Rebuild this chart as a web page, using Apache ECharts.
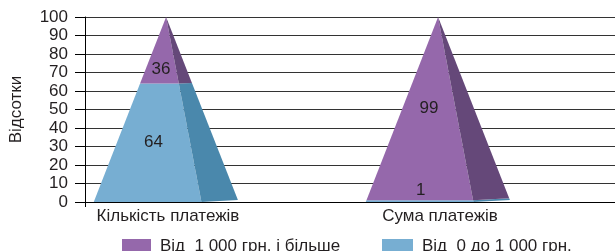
<!DOCTYPE html>
<html><head><meta charset="utf-8">
<script src="https://cdn.jsdelivr.net/npm/echarts@6/dist/echarts.min.js"></script>
<style>html,body{margin:0;padding:0;background:#fff}#c{width:615px;height:251px}</style>
</head><body><div id="c"></div>
<script>
const categories = ['Кількість платежів', 'Сума платежів'];
const seriesNames = ['Від  1 000 грн. і більше', 'Від  0 до 1 000 грн.'];
const upperValues = [36, 99];  // Від 1 000 грн. і більше
const lowerValues = [64, 1];   // Від 0 до 1 000 грн.
const yTicks = [0, 10, 20, 30, 40, 50, 60, 70, 80, 90, 100];

const FONT = '"Liberation Sans", Arial, sans-serif';
const TXT = '#231f20';
const colors = {
  upper: { front: '#9568ab', side: '#654879' },
  lower: { front: '#77aed2', side: '#4a88ac' }
};
// pyramid shape as fractions of the category band
const SHAPE = { left: -0.273, right: 0.123, back: 0.257, apex: -0.007 };

function makeRender(col) {
  return function (params, api) {
    const i = api.value(0), v0 = api.value(1), v1 = api.value(2), lab = api.value(3);
    const base = api.coord([i, 0]);
    const top = api.coord([i, 100]);
    const band = api.size([1, 0])[0];
    const cx = base[0], by = base[1], ay = top[1];
    const L = cx + SHAPE.left * band, R = cx + SHAPE.right * band, B = cx + SHAPE.back * band, A = cx + SHAPE.apex * band;
    const y0 = api.coord([i, v0])[1], y1 = api.coord([i, v1])[1];
    const t = y => (by - y) / (by - ay);
    const at = (X, y) => X + (A - X) * t(y);
    const front = [[at(L, y0), y0], [at(R, y0), y0], [at(R, y1), y1], [at(L, y1), y1]];
    const side = [[at(R, y0), y0], [at(B, y0), y0 - 2 * (1 - t(y0))], [at(B, y1), y1 - 2 * (1 - t(y1))], [at(R, y1), y1]];
    let ly = (y0 + y1) / 2;
    ly = Math.max(ly, ay + 52);
    ly = Math.min(ly, y0 - 12);
    const lx = (at(L, ly) + at(R, ly)) / 2;
    return {
      type: 'group',
      children: [
        { type: 'polygon', shape: { points: front }, style: { fill: col.front } },
        { type: 'polygon', shape: { points: side }, style: { fill: col.side } },
        { type: 'text', x: lx, y: ly, z2: 10, style: { text: String(lab), fill: TXT, font: '17px ' + FONT, align: 'center', verticalAlign: 'middle' } }
      ]
    };
  };
}

const lowerData = categories.map((c, i) => [i, 0, lowerValues[i], lowerValues[i]]);
const upperData = categories.map((c, i) => [i, lowerValues[i], lowerValues[i] + upperValues[i], upperValues[i]]);

const legendText = {
  fontSize: 17, color: TXT, fontFamily: FONT,
  rich: { t: { fontSize: 17, color: TXT, fontFamily: FONT, lineHeight: 17, padding: [0, 0, 5, 4] } }
};

const chart = echarts.init(document.getElementById('c'), null, { renderer: 'canvas' });
chart.setOption({
  animation: false,
  textStyle: { fontFamily: FONT },
  grid: [
    { left: 79, right: 0, top: 17, bottom: 49 },
    { left: 32, right: 39, top: 17, bottom: 49 }
  ],
  legend: [
    { data: [seriesNames[0]], left: 117, top: 233, itemWidth: 29, itemHeight: 20, icon: 'rect', itemGap: 0,
      formatter: n => '{t|' + n + '}', textStyle: legendText },
    { data: [seriesNames[1]], left: 377, top: 233, itemWidth: 31, itemHeight: 20, icon: 'rect', itemGap: 0,
      formatter: n => '{t|' + n + '}', textStyle: legendText }
  ],
  xAxis: [
    { gridIndex: 0, type: 'value', min: 0, max: 1,
      axisLine: { show: true, onZero: false, lineStyle: { color: '#000', width: 1 } },
      axisTick: { show: true, length: 5, customValues: [0], lineStyle: { color: '#000' } },
      axisLabel: { show: false }, splitLine: { show: false } },
    { gridIndex: 1, type: 'category', data: categories,
      axisLine: { show: false }, axisTick: { show: false },
      axisLabel: { margin: 6, fontSize: 17, color: TXT, fontFamily: FONT } }
  ],
  yAxis: [
    { gridIndex: 0, type: 'value', min: 0, max: 100, interval: 10,
      name: 'Відсотки', nameLocation: 'middle', nameRotate: 90, nameGap: 60,
      nameTextStyle: { fontSize: 17, color: TXT, fontFamily: FONT },
      axisLine: { show: true, lineStyle: { color: '#000', width: 1 } },
      axisTick: { show: true, length: 10, lineStyle: { color: '#000' } },
      axisLabel: { margin: 17, fontSize: 17, color: TXT, fontFamily: FONT,
        customValues: yTicks, formatter: v => String(v) },
      splitLine: { show: true, lineStyle: { color: '#333', width: 1 } } },
    { gridIndex: 1, type: 'value', min: 0, max: 100, show: false, splitLine: { show: false } }
  ],
  series: [
    { name: seriesNames[1], type: 'custom', xAxisIndex: 1, yAxisIndex: 1,
      itemStyle: { color: colors.lower.front },
      renderItem: makeRender(colors.lower), data: lowerData, encode: { x: 0, y: [1, 2] } },
    { name: seriesNames[0], type: 'custom', xAxisIndex: 1, yAxisIndex: 1,
      itemStyle: { color: colors.upper.front },
      renderItem: makeRender(colors.upper), data: upperData, encode: { x: 0, y: [1, 2] } }
  ]
});
</script></body></html>
